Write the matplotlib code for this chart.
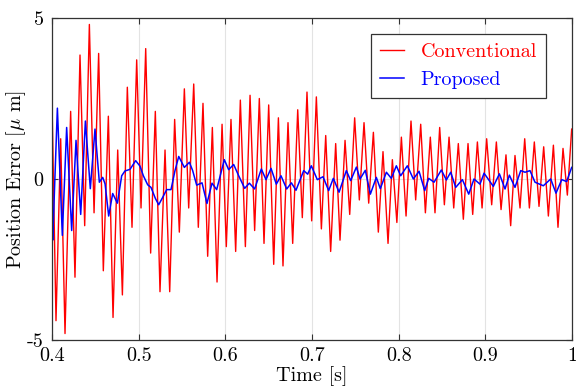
import matplotlib
matplotlib.use("Agg")
import matplotlib.pyplot as plt

# Conventional controller: extrema (time [s], error [um])
red_t = [0.4000, 0.4046, 0.4100, 0.4150, 0.4215, 0.4265, 0.4323, 0.4377, 0.4431, 0.4485,
         0.4538, 0.4592, 0.4650, 0.4704, 0.4758, 0.4812, 0.4869, 0.4923, 0.4977, 0.5027,
         0.5081, 0.5138, 0.5192, 0.5246, 0.5304, 0.5358, 0.5415, 0.5469, 0.5527, 0.5577,
         0.5635, 0.5688, 0.5742, 0.5796, 0.5850, 0.5904, 0.5962, 0.6011, 0.6065, 0.6119,
         0.6173, 0.6231, 0.6285, 0.6338, 0.6392, 0.6446, 0.6500, 0.6558, 0.6612, 0.6665,
         0.6723, 0.6777, 0.6835, 0.6888, 0.6942, 0.6996, 0.7050, 0.7108, 0.7158, 0.7215,
         0.7273, 0.7323, 0.7381, 0.7435, 0.7492, 0.7546, 0.7600, 0.7654, 0.7708, 0.7765,
         0.7819, 0.7877, 0.7927, 0.7979, 0.8031, 0.8085, 0.8142, 0.8196, 0.8254, 0.8308,
         0.8365, 0.8419, 0.8473, 0.8527, 0.8581, 0.8635, 0.8688, 0.8746, 0.8800, 0.8854,
         0.8908, 0.8962, 0.9015, 0.9073, 0.9127, 0.9181, 0.9238, 0.9292, 0.9342, 0.9400,
         0.9454, 0.9508, 0.9565, 0.9619, 0.9673, 0.9727, 0.9785, 0.9838, 0.9896, 0.9946,
         0.9996]
red_v = [2.4, -4.4, 1.25, -4.8, 2.1, -3.05, 3.85, -1.45, 4.8, -1.05,
         3.9, -2.85, 1.95, -4.3, 0.9, -3.6, 2.85, -1.5, 3.7, -0.9,
         4.05, -2.3, 2.1, -3.5, 0.9, -3.5, 1.85, -1.65, 2.8, -0.9,
         2.95, -1.5, 2.35, -2.4, 1.6, -3.2, 1.7, -2.1, 1.85, -2.25,
         2.45, -2.1, 2.6, -1.6, 2.5, -2.0, 2.3, -2.65, 1.9, -2.7,
         1.75, -2.0, 2.15, -1.2, 2.7, -1.3, 2.55, -1.55, 1.35, -2.25,
         1.1, -1.9, 1.2, -1.1, 1.9, -0.65, 1.75, -0.75, 1.45, -1.65,
         0.85, -2.0, 0.6, -1.35, 1.3, -1.15, 1.8, -0.65, 1.7, -1.05,
         1.3, -1.05, 1.6, -0.8, 1.3, -0.9, 1.1, -1.25, 1.1, -1.1,
         1.15, -0.9, 1.25, -0.8, 1.15, -0.95, 0.75, -1.45, 0.73, -0.9,
         1.25, -0.9, 1.15, -0.85, 1.0, -1.15, 1.05, -1.5, 0.95, -0.5,
         1.55]

# Proposed controller
blue_t = [0.4000, 0.4008, 0.4062, 0.4119, 0.4169, 0.4227, 0.4277, 0.4331, 0.4385, 0.4442,
          0.4496, 0.4546, 0.4585, 0.4612, 0.4654, 0.4700, 0.4754, 0.4804, 0.4842, 0.4900,
          0.4965, 0.5015, 0.5054, 0.5104, 0.5142, 0.5192, 0.5231, 0.5277, 0.5323, 0.5373,
          0.5419, 0.5462, 0.5527, 0.5585, 0.5623, 0.5669, 0.5731, 0.5788, 0.5846, 0.5900,
          0.5988, 0.6038, 0.6096, 0.6154, 0.6223, 0.6277, 0.6338, 0.6415, 0.6469, 0.6527,
          0.6588, 0.6642, 0.6708, 0.6762, 0.6815, 0.6904, 0.6950, 0.6992, 0.7061, 0.7127,
          0.7192, 0.7246, 0.7312, 0.7396, 0.7446, 0.7512, 0.7554, 0.7615, 0.7673, 0.7742,
          0.7788, 0.7858, 0.7915, 0.7973, 0.8023, 0.8100, 0.8169, 0.8235, 0.8300, 0.8346,
          0.8408, 0.8492, 0.8550, 0.8600, 0.8658, 0.8735, 0.8808, 0.8869, 0.8938, 0.8985,
          0.9092, 0.9162, 0.9227, 0.9277, 0.9342, 0.9408, 0.9458, 0.9515, 0.9573, 0.9669,
          0.9754, 0.9815, 0.9881, 0.9938, 0.9996]
blue_v = [-1.2, -1.9, 2.2, -1.75, 1.6, -1.6, 1.2, -1.1, 1.8, -0.3,
          1.55, -0.1, 0.05, -0.15, -1.15, -0.45, -0.75, 0.1, 0.25, 0.3,
          0.57, 0.4, 0.1, -0.18, -0.26, -0.6, -0.8, -0.57, -0.33, -0.33,
          0.26, 0.7, 0.36, 0.52, 0.26, -0.19, -0.12, -0.76, -0.13, -0.33,
          0.6, 0.29, 0.45, 0.1, -0.29, -0.13, -0.31, 0.31, -0.02, 0.33,
          -0.16, 0.1, -0.31, -0.12, -0.35, 0.26, 0.15, 0.41, -0.02, 0.07,
          -0.36, 0.02, -0.41, 0.26, -0.05, 0.37, 0.0, 0.27, -0.47, 0.05,
          -0.3, 0.21, 0.02, 0.41, 0.1, 0.41, 0.0, 0.24, -0.36, 0.02,
          -0.1, 0.28, -0.03, 0.21, -0.26, -0.02, -0.47, 0.0, -0.16, 0.18,
          -0.23, 0.16, -0.31, 0.12, -0.26, 0.26, 0.21, 0.26, -0.1, -0.21,
          0.0, -0.44, -0.02, -0.08, 0.36]

x_ticks = [0.4, 0.5, 0.6, 0.7, 0.8, 0.9, 1.0]
x_tick_labels = ["0.4", "0.5", "0.6", "0.7", "0.8", "0.9", "1"]
y_ticks = [-5, 0, 5]
y_tick_labels = ["-5", "0", "5"]

FS = 14.5

plt.rcParams["font.family"] = "cmr10"
plt.rcParams["mathtext.fontset"] = "cm"
plt.rcParams["axes.unicode_minus"] = False

fig = plt.figure(figsize=(5.76, 3.89), dpi=100)
ax = fig.add_axes([0.0903, 0.126, 0.9028, 0.8277])

ax.plot(red_t, red_v, color="#ff0000", lw=1.0, label="Conventional")
ax.plot(blue_t, blue_v, color="#0000ff", lw=1.1, label="Proposed")

ax.set_xlim(0.4, 1.0)
ax.set_ylim(-5, 5)
ax.set_xticks(x_ticks)
ax.set_xticklabels(x_tick_labels)
ax.set_yticks(y_ticks)
ax.set_yticklabels(y_tick_labels)
ax.grid(True, color="#e3e3e3", lw=0.8)
ax.set_axisbelow(True)
ax.tick_params(direction="in", top=True, right=True, length=4, width=0.8,
               color="#333333", labelsize=FS)
ax.tick_params(axis="x", pad=5)
ax.tick_params(axis="y", pad=6)
for s in ax.spines.values():
    s.set_color("#333333")
    s.set_linewidth(0.9)

ax.set_xlabel("Time [s]", fontsize=FS, labelpad=1)
ax.set_ylabel(r"Position Error [$\mu$ m]", fontsize=FS, labelpad=-1)

leg = ax.legend(loc="upper right", bbox_to_anchor=(0.95, 0.95), borderaxespad=0,
                fontsize=FS, fancybox=False, framealpha=1, edgecolor="#333333",
                handlelength=1.2, handletextpad=0.8, borderpad=0.45, labelspacing=0.5)
leg.get_frame().set_linewidth(0.9)
for txt, line in zip(leg.get_texts(), leg.get_lines()):
    txt.set_color(line.get_color())

fig.savefig("out.png", dpi=100)
